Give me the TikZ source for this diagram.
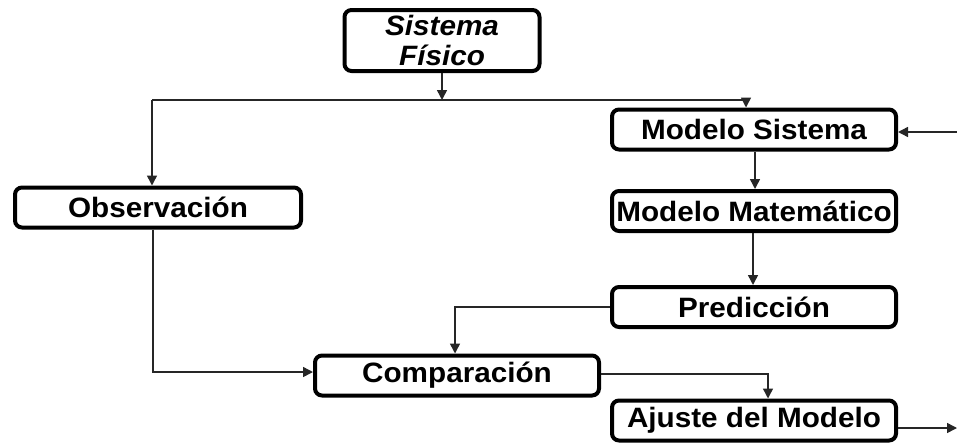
\documentclass[tikz,border=0pt]{standalone}
\usepackage{fontspec}
\setmainfont{Liberation Sans}
\newfontfamily\boxfont[FakeStretch=1.06]{Liberation Sans}
\usetikzlibrary{arrows.meta}
\tikzset{
  box/.style={draw=black, line width=4pt, rounded corners=7pt, fill=white,
    inner sep=0pt, minimum width=284pt, minimum height=40pt,
    font=\boxfont\bfseries\fontsize{28}{30}\selectfont, align=center},
  conn/.style={draw=black!85, line width=1.5pt,
    -{Triangle[length=10pt,width=10pt]}},
  plain/.style={draw=black!85, line width=1.5pt}
}
\begin{document}
\begin{tikzpicture}[x=1pt,y=-1pt]
\useasboundingbox (0,0) rectangle (957,442);
\node[box, minimum width=195pt, minimum height=61pt, font=\boxfont\bfseries\itshape\fontsize{28}{30}\selectfont] (sis) at (442,40.5) {Sistema\\Físico};
\node[box] (ms) at (754,129.5) {Modelo Sistema};
\node[box] (mm) at (754,211) {Modelo Matemático};
\node[box] (pred) at (754,307) {Predicción};
\node[box, minimum width=286pt] (obs) at (158,207.5) {Observación};
\node[box] (comp) at (457,375.5) {Comparación};
\node[box] (aj) at (754,420.5) {Ajuste del Modelo};
\coordinate (top) at (442,100);
\coordinate (topL) at (152,100);
\coordinate (topR) at (746,100);
\coordinate (inR) at (957,132);
\coordinate (outR) at (957,428);
% connectors
\draw[conn] (sis.south) -- (top);
\draw[plain] (topL) -- (topR);
\draw[conn] (topR) -- (topR |- ms.north);
\draw[conn] (topL) -- (topL |- obs.north);
\draw[conn] (inR) -- (inR -| ms.east);
\draw[conn] (ms.south -| 755,0) -- (mm.north -| 755,0);
\draw[conn] (mm.south -| 753,0) -- (pred.north -| 753,0);
\draw[conn] (obs.south -| 153,0) |- (comp.west |- 0,372);
\draw[conn] (pred.west) -| (455,0 |- comp.north);
\draw[conn] (comp.east |- 0,374) -| (768,0 |- aj.north);
\draw[conn] (aj.east |- outR) -- (outR);
\end{tikzpicture}
\end{document}
